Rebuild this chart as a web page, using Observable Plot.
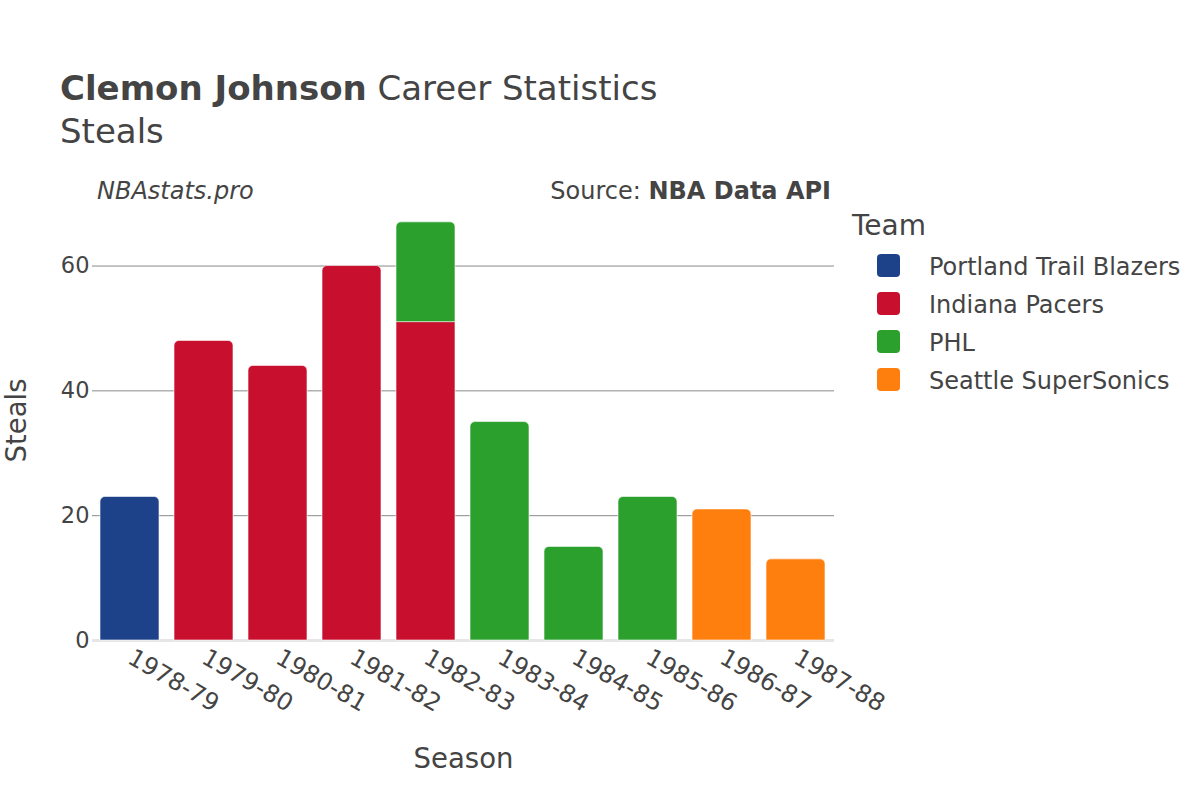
<!DOCTYPE html>
<html>
<head>
<meta charset="utf-8">
<script src="https://cdn.jsdelivr.net/npm/d3@7"></script>
<script src="https://cdn.jsdelivr.net/npm/@observablehq/plot@0.6"></script>
<style>
  html, body { margin: 0; padding: 0; background: #fff; }
  body { width: 1200px; height: 800px; position: relative; overflow: hidden; font-family: "DejaVu Sans", sans-serif; color: #444; }
  .abs { position: absolute; white-space: nowrap; line-height: normal; }
  #chart { position: absolute; left: 0; top: 0; }
  .legend-item { position: absolute; left: 877px; height: 23px; }
  .sw { position: absolute; left: 0; top: 0; width: 23px; height: 23px; border-radius: 4px; }
  .lbl { position: absolute; left: 52px; top: -1px; font-size: 24px; color: #444; white-space: nowrap; }
</style>
</head>
<body>
<div id="chart"></div>
<div class="abs" style="left:60px; top:68px; font-size:34px; color:#444;"><b>Clemon Johnson</b> Career Statistics</div>
<div class="abs" style="left:60px; top:111px; font-size:34px; color:#444;">Steals</div>
<div class="abs" style="left:97px; top:177px; font-size:24px; font-style:italic; color:#444;">NBAstats.pro</div>
<div class="abs" style="right:369px; top:177px; font-size:24px; color:#444;">Source: <b>NBA Data API</b></div>
<div class="abs" style="left:852px; top:209px; font-size:28px; color:#444;">Team</div>
<div id="legend"></div>
<script>
const seasons = ["1978-79","1979-80","1980-81","1981-82","1982-83","1983-84","1984-85","1985-86","1986-87","1987-88"];
const teams = ["Portland Trail Blazers","Indiana Pacers","PHL","Seattle SuperSonics"];
const teamColors = ["#1d428a","#c8102e","#2ca02c","#ff7f0e"];
// one entry per (season, team) segment, in stacking order
const rowSeason = ["1978-79","1979-80","1980-81","1981-82","1982-83","1982-83","1983-84","1984-85","1985-86","1986-87","1987-88"];
const rowTeam   = ["Portland Trail Blazers","Indiana Pacers","Indiana Pacers","Indiana Pacers","Indiana Pacers","PHL","PHL","PHL","PHL","Seattle SuperSonics","Seattle SuperSonics"];
const rowSteals = [23,48,44,60,51,16,35,15,23,21,13];
const yTicks = [0,20,40,60];

// build stacked table
const totals = {};
const rows = rowSeason.map((s,i) => {
  const base = totals[s] || 0;
  totals[s] = base + rowSteals[i];
  return {season: s, team: rowTeam[i], y1: base, y2: base + rowSteals[i]};
});
rows.forEach(r => { r.top = r.y2 === totals[r.season]; });

const font = "DejaVu Sans, sans-serif";
const chart = Plot.plot({
  width: 1200,
  height: 800,
  marginLeft: 92,
  marginRight: 366,
  marginTop: 200,
  marginBottom: 160,
  style: {fontFamily: font, fontSize: "22.5px", color: "#444", background: "transparent"},
  x: {domain: seasons, paddingInner: 0.2, paddingOuter: 0.1, label: null},
  y: {domain: [0, 70.5], label: null},
  color: {domain: teams, range: teamColors},
  marks: [
    Plot.ruleY(yTicks.filter(d => d > 0), {stroke: "#8a8a8a", strokeWidth: 1}),
    Plot.ruleY([0], {stroke: "#e6e6e6", strokeWidth: 3}),
    Plot.rectY(rows.filter(r => !r.top), {x: "season", y1: "y1", y2: "y2", fill: "team", stroke: "#fff", strokeWidth: 0.6}),
    Plot.rectY(rows.filter(r => r.top), {x: "season", y1: "y1", y2: "y2", fill: "team", stroke: "#fff", strokeWidth: 0.6, ry2: 5, rx2y2: 5, rx1y2: 5}),
    Plot.axisY({ticks: yTicks, tickSize: 0, tickPadding: 3, fontSize: 22.5, label: null}),
    Plot.axisX({tickSize: 0, tickRotate: 30, tickPadding: 15, fontSize: 24, label: null}),
    Plot.text(["Season"], {frameAnchor: "bottom", dy: 127, fontSize: 27.5, fill: "#444"}),
    Plot.text(["Steals"], {frameAnchor: "left", textAnchor: "middle", dx: -75, rotate: -90, fontSize: 27.5, fill: "#444"})
  ]
});
document.getElementById("chart").appendChild(chart);

const legend = document.getElementById("legend");
teams.forEach((t, i) => {
  const item = document.createElement("div");
  item.className = "legend-item";
  item.style.top = (254 + i * 38) + "px";
  const sw = document.createElement("div");
  sw.className = "sw";
  sw.style.background = teamColors[i];
  const lb = document.createElement("div");
  lb.className = "lbl";
  lb.textContent = t;
  item.appendChild(sw); item.appendChild(lb);
  legend.appendChild(item);
});
</script>
</body>
</html>
